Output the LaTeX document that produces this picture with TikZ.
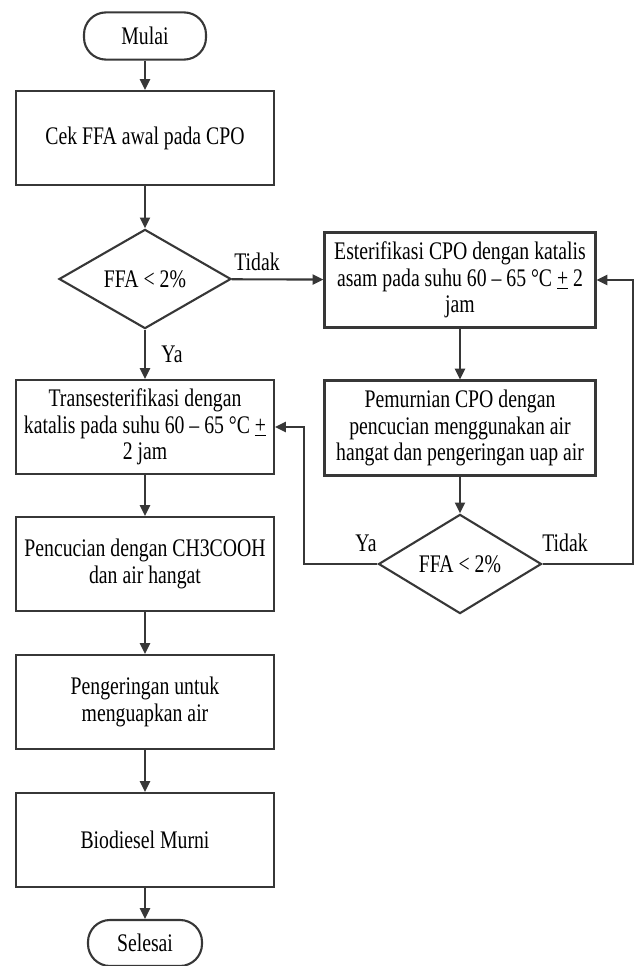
\documentclass[tikz,border=0pt]{standalone}
\usepackage{fontspec}
\setmainfont[FakeStretch=0.78]{Liberation Serif}
\usetikzlibrary{shapes.geometric, arrows.meta}
\definecolor{garis}{RGB}{55, 55, 55}
\tikzset{
	teks/.style = {font=\fontsize{18}{19}\selectfont, text=black},
	proses/.style = {teks, draw=garis, line width=1.5pt, rectangle, align=center, minimum width=6.45cm, minimum height=2.35cm, inner sep=2pt},
	terminal/.style = {teks, draw=garis, line width=1.5pt, rectangle, rounded corners=0.55cm, minimum width=3.05cm, minimum height=1.18cm},
	keputusan/.style = {teks, draw=garis, line width=1.5pt, diamond, inner sep=0pt, minimum width=4.3cm, minimum height=2.45cm},
	label/.style = {teks, inner sep=0pt},
	panah/.style = {draw=garis, line width=1.5pt, -{Triangle[length=0.27cm, width=0.25cm]}}
}

\begin{document}
\begin{tikzpicture}
	\useasboundingbox (0,0) rectangle (15.975,24.15);
	
	% kolom kiri
	\node [terminal] (mulai) at (3.625,23.25) {Mulai};
	\node [proses] (cek) at (3.625,20.7) {Cek FFA awal pada CPO};
	\node [keputusan] (ffa1) at (3.625,17.175) {FFA < 2\%};
	\node [proses] (trans) at (3.625,13.475) {Transesterifikasi dengan\\katalis pada suhu 60 -- 65 °C \underline{+}\\2 jam};
	\node [proses] (cuci) at (3.625,10.05) {Pencucian dengan CH3COOH\\dan air hangat};
	\node [proses] (kering) at (3.625,6.6) {Pengeringan untuk\\menguapkan air};
	\node [proses] (bio) at (3.625,3.15) {Biodiesel Murni};
	\node [terminal, minimum width=2.85cm, minimum height=1.15cm] (selesai) at (3.625,0.575) {Selesai};
	
	% kolom kanan
	\node [proses, minimum width=6.775cm, minimum height=2.375cm] (ester) at (11.5,17.15) {Esterifikasi CPO dengan katalis\\asam pada suhu 60 -- 65 °C \underline{+} 2\\jam};
	\node [proses, minimum width=6.775cm, minimum height=2.375cm] (murni) at (11.5,13.45) {Pemurnian CPO dengan\\pencucian menggunakan air\\hangat dan pengeringan uap air};
	\node [keputusan, minimum width=4.075cm] (ffa2) at (11.5,10.05) {FFA < 2\%};
	
	% label
	\node [label] (tidak1) at (6.425,17.6) {Tidak};
	\node [label] (ya1) at (4.3,15.3) {Ya};
	\node [label] (ya2) at (9.15,10.575) {Ya};
	\node [label] (tidak2) at (14.125,10.575) {Tidak};
	
	\coordinate (kiri) at (7.6,10.05);
	\coordinate (kanan) at (15.825,10.05);
	
	% panah
	\draw [panah] (mulai) -- (cek);
	\draw [panah] (cek) -- (ffa1);
	\draw [panah] (ffa1) -- (ester);
	\draw [panah] (ffa1) -- (trans);
	\draw [panah] (trans) -- (cuci);
	\draw [panah] (cuci) -- (kering);
	\draw [panah] (kering) -- (bio);
	\draw [panah] (bio) -- (selesai);
	\draw [panah] (ester) -- (murni);
	\draw [panah] (murni) -- (ffa2);
	\draw [panah] (ffa2.west) -- (kiri) |- (trans.east);
	\draw [panah] (ffa2.east) -- (kanan) |- (ester.east);
\end{tikzpicture}
\end{document}
